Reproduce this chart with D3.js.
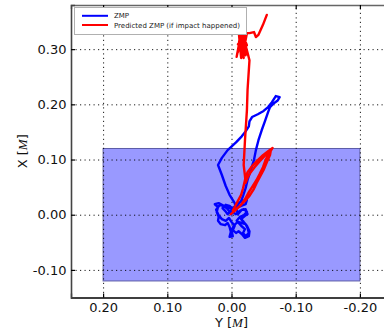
<!DOCTYPE html>
<html>
<head>
<meta charset="utf-8">
<script src="https://cdn.jsdelivr.net/npm/d3@7"></script>
<style>
  body { margin: 0; background: #fff; }
  svg { display: block; }
  text { font-family: "DejaVu Sans", sans-serif; }
</style>
</head>
<body>
<svg id="chart" width="384" height="332"></svg>
<script>
// Measured ZMP trajectory (lateral Y, forward X), metres
const zmpY = [0.000, 0.006, 0.012, 0.020, 0.026, 0.021, 0.023, 0.020, 0.021, 0.017,
  0.010, 0.006, 0.003, 0.001, 0.003, -0.002, 0.000, -0.004, -0.010, -0.016,
  -0.022, -0.025, -0.027, -0.022, -0.018, -0.021, -0.015, -0.008, -0.013, -0.019,
  -0.024, -0.019, -0.013, -0.007, -0.002, -0.007, -0.015, -0.022, -0.024, -0.018,
  -0.010, -0.004, 0.001, 0.006, 0.010, 0.014, 0.009, 0.003, -0.002,
  0.018, 0.024, 0.020, 0.015, 0.009, 0.004, 0.000, -0.005, -0.002, -0.007,
  -0.011, -0.016, -0.021, -0.027, -0.028, -0.024, -0.019, -0.015, -0.021, -0.025,
  -0.022, -0.016, -0.010,
  -0.005, 0.003, 0.009, 0.015, 0.021, 0.015, 0.006, -0.007, -0.016, -0.022,
  -0.027, -0.028, -0.032, -0.041, -0.050, -0.057, -0.063, -0.069, -0.075, -0.072,
  -0.066, -0.060, -0.057, -0.052, -0.047, -0.042, -0.038, -0.035, -0.030, -0.025,
  -0.022, -0.018, -0.015, -0.010, -0.004, 0.001];
const zmpX = [0.001, 0.010, 0.016, 0.021, 0.019, 0.014, 0.005, -0.004, -0.011, -0.017,
  -0.019, -0.015, -0.022, -0.031, -0.040, -0.039, -0.028, -0.019, -0.013, -0.015,
  -0.017, -0.024, -0.033, -0.039, -0.033, -0.026, -0.020, -0.011, -0.004, -0.001,
  0.005, 0.010, 0.007, 0.001, 0.005, 0.012, 0.016, 0.019, 0.027, 0.025,
  0.021, 0.014, 0.007, 0.001, 0.007, 0.012, 0.018, 0.016, 0.010,
  0.018, 0.009, -0.001, -0.008, -0.011, -0.006, -0.013, -0.020, -0.028, -0.033,
  -0.030, -0.035, -0.042, -0.039, -0.030, -0.020, -0.013, -0.008, -0.002, 0.001,
  0.010, 0.009, 0.001,
  0.021, 0.036, 0.052, 0.072, 0.090, 0.103, 0.117, 0.131, 0.142, 0.151,
  0.160, 0.169, 0.177, 0.182, 0.188, 0.195, 0.204, 0.215, 0.213, 0.207,
  0.202, 0.195, 0.186, 0.169, 0.153, 0.135, 0.117, 0.099, 0.081, 0.063,
  0.048, 0.034, 0.025, 0.018, 0.010, 0.003];

// Predicted ZMP (if impact happened), metres
const predY = [0.001, -0.007, -0.015, -0.021, -0.027, -0.033, -0.039, -0.044, -0.049, -0.053,
  -0.058, -0.064,
  -0.057, -0.049, -0.041, -0.032, -0.025, -0.021, -0.018, -0.015, -0.010, -0.005, -0.002,
  -0.007, -0.013, -0.021, -0.028, -0.035, -0.039, -0.044, -0.050, -0.055, -0.060, -0.061,
  -0.053, -0.044, -0.036, -0.030, -0.025, -0.022, -0.021, -0.019,
  -0.021, -0.024, -0.025,
  -0.028, -0.024, -0.015, -0.011, -0.019, -0.015, -0.010, -0.018, -0.022, -0.013,
  -0.008, -0.016, -0.024, -0.011, -0.015, -0.021, -0.010, -0.019, -0.024, -0.028,
  -0.035, -0.038, -0.042, -0.049, -0.055];
const predX = [0.001, 0.009, 0.018, 0.028, 0.041, 0.052, 0.063, 0.074, 0.086, 0.099,
  0.110, 0.121,
  0.115, 0.108, 0.099, 0.088, 0.077, 0.063, 0.048, 0.036, 0.025, 0.014, 0.007,
  0.010, 0.016, 0.025, 0.034, 0.047, 0.057, 0.068, 0.081, 0.095, 0.108, 0.115,
  0.108, 0.097, 0.086, 0.077, 0.067, 0.058, 0.070, 0.090,
  0.135, 0.189, 0.226,
  0.280, 0.298, 0.335, 0.307, 0.284, 0.326, 0.295, 0.339, 0.289, 0.317,
  0.286, 0.331, 0.307, 0.335, 0.284, 0.324, 0.309, 0.298, 0.329, 0.329,
  0.331, 0.322, 0.326, 0.344, 0.362];

// Support polygon extents
const supportY = [0.20, -0.20];
const supportX = [-0.12, 0.12];

// Axis ticks and labels
const yTicks = [0.20, 0.10, 0.00, -0.10, -0.20];
const yTickLabels = ["0.20", "0.10", "0.00", "-0.10", "-0.20"];
const xTicks = [-0.10, 0.00, 0.10, 0.20, 0.30];
const xTickLabels = ["-0.10", "0.00", "0.10", "0.20", "0.30"];

const seriesNames = ["ZMP", "Predicted ZMP (if impact happened)"];
const seriesColors = ["#0000ff", "#ff0000"];

const svg = d3.select("#chart");
const plotL = 71, plotR = 392, plotT = 5, plotB = 297.5;

const sx = d3.scaleLinear().domain([0.25, -0.25]).range([plotL, plotR]);
const sy = d3.scaleLinear().domain([-0.15, 0.38]).range([plotB, plotT]);

svg.append("defs").append("clipPath").attr("id", "plotClip")
  .append("rect").attr("x", plotL).attr("y", plotT)
  .attr("width", plotR - plotL).attr("height", plotB - plotT);

const plot = svg.append("g").attr("clip-path", "url(#plotClip)");

// Support polygon
plot.append("rect")
  .attr("x", sx(supportY[0])).attr("y", sy(supportX[1]))
  .attr("width", sx(supportY[1]) - sx(supportY[0]))
  .attr("height", sy(supportX[0]) - sy(supportX[1]))
  .attr("fill", "#9999ff")
  .attr("stroke", "#5c5ca8").attr("stroke-width", 1);

// Dotted grid
const gridV = plot.append("g").attr("transform", `translate(0,${plotB})`)
  .call(d3.axisBottom(sx).tickValues(yTicks).tickSize(-(plotB - plotT)).tickFormat(""));
const gridH = plot.append("g").attr("transform", `translate(${plotL},0)`)
  .call(d3.axisLeft(sy).tickValues(xTicks).tickSize(-(plotR - plotL)).tickFormat(""));
[gridV, gridH].forEach(g => {
  g.select(".domain").remove();
  g.selectAll("line").attr("stroke", "#000").attr("stroke-width", 0.9)
    .attr("stroke-dasharray", "1.2,3.3");
});

// Trajectories
const line = d3.line().x(d => sx(d[0])).y(d => sy(d[1])).curve(d3.curveLinear);
const zmp = zmpY.map((v, i) => [v, zmpX[i]]);
const pred = predY.map((v, i) => [v, predX[i]]);
[[zmp, seriesColors[0]], [pred, seriesColors[1]]].forEach(([pts, c]) => {
  plot.append("path").datum(pts).attr("d", line)
    .attr("fill", "none").attr("stroke", c).attr("stroke-width", 2.4)
    .attr("stroke-linejoin", "round").attr("stroke-linecap", "round");
});

// Axes with inward ticks
const axB = svg.append("g").attr("transform", `translate(0,${plotB})`)
  .call(d3.axisBottom(sx).tickValues(yTicks).tickSize(-4).tickPadding(5)
    .tickFormat((d, i) => yTickLabels[i]));
const axT = svg.append("g").attr("transform", `translate(0,${plotT})`)
  .call(d3.axisTop(sx).tickValues(yTicks).tickSize(-4).tickFormat(""));
const axL = svg.append("g").attr("transform", `translate(${plotL},0)`)
  .call(d3.axisLeft(sy).tickValues(xTicks).tickSize(-4).tickPadding(4.5)
    .tickFormat((d, i) => xTickLabels[i]));
[axB, axT, axL].forEach(g => {
  g.selectAll(".tick line").attr("stroke", "#000").attr("stroke-width", 1.2);
  g.selectAll(".tick text").attr("font-size", 13).attr("fill", "#111")
    .attr("font-family", "DejaVu Sans");
});
axB.select(".domain").attr("stroke", "#000").attr("stroke-width", 1.3);
axT.select(".domain").attr("stroke", "#666").attr("stroke-width", 1.4);
axL.select(".domain").attr("stroke", "#444").attr("stroke-width", 1.6);

// Axis titles
const yTitle = svg.append("text").attr("x", (plotL + plotR) / 2).attr("y", 327)
  .attr("text-anchor", "middle").attr("font-size", 13).attr("fill", "#111");
yTitle.append("tspan").text("Y [");
yTitle.append("tspan").attr("font-family", "Liberation Serif").attr("font-style", "italic").text("M");
yTitle.append("tspan").text("]");

const xTitle = svg.append("text")
  .attr("transform", `translate(27,${(plotT + plotB) / 2}) rotate(-90)`)
  .attr("text-anchor", "middle").attr("font-size", 13).attr("fill", "#111");
xTitle.append("tspan").text("X [");
xTitle.append("tspan").attr("font-family", "Liberation Serif").attr("font-style", "italic").text("M");
xTitle.append("tspan").text("]");

// Legend
const lg = svg.append("g");
lg.append("rect").attr("x", 74.5).attr("y", 7.5).attr("width", 172).attr("height", 27)
  .attr("fill", "#fff").attr("stroke", "#b0b0b0").attr("stroke-width", 1);
seriesNames.forEach((name, i) => {
  const yy = 15.8 + i * 9.2;
  lg.append("line").attr("x1", 82).attr("x2", 108).attr("y1", yy).attr("y2", yy)
    .attr("stroke", seriesColors[i]).attr("stroke-width", 2);
  lg.append("text").attr("x", 114).attr("y", yy + 2.5).attr("font-size", 7)
    .attr("fill", "#222").text(name);
});
</script>
</body>
</html>
